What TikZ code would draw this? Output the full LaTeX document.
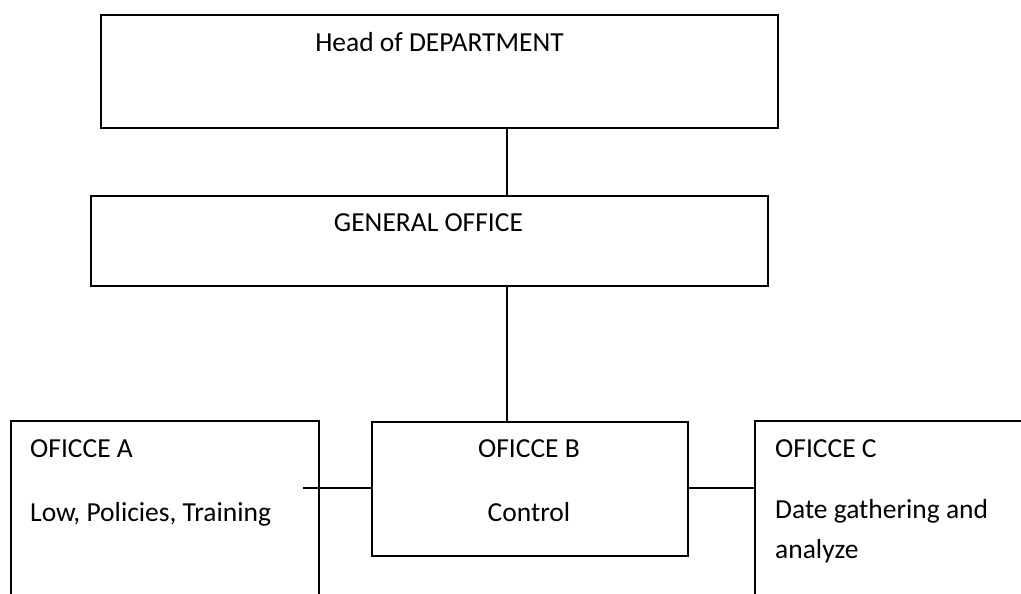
\documentclass[tikz,border=0pt]{standalone}
\usepackage{fontspec}
\setmainfont{Carlito}
\begin{document}
\begin{tikzpicture}[x=1pt,y=-1pt,
  box/.style={draw, line width=1.6pt, rectangle, inner sep=0pt, anchor=north west},
  link/.style={line width=1.6pt},
  txt/.style={font=\fontsize{27.5}{40}\selectfont, inner sep=0pt, anchor=base},
  txtl/.style={txt, anchor=base west}]
\useasboundingbox (0,0) rectangle (1021,594);
\clip (0,0) rectangle (1021,594);
\fill[white] (0,0) rectangle (1021,594);
% boxes
\node[box, minimum width=677pt, minimum height=113pt] (head) at (100,14) {};
\node[box, minimum width=677pt, minimum height=90pt] (gen) at (90,195) {};
\node[box, minimum width=308pt, minimum height=260pt] (offA) at (10,420) {};
\node[box, minimum width=316pt, minimum height=134pt] (offB) at (371,421) {};
\node[box, minimum width=320pt, minimum height=260pt] (offC) at (754,420) {};
% texts
\node[txt] (tHead) at (439.5,52) {Head of DEPARTMENT};
\node[txt] (tGen) at (428.5,231) {GENERAL OFFICE};
\node[txtl] (tA1) at (30,457) {OFICCE A};
\node[txtl] (tA2) at (30,521) {Low, Policies, Training};
\node[txt] (tB1) at (529,457) {OFICCE B};
\node[txt] (tB2) at (529,521) {Control};
\node[txtl] (tC1) at (775,457) {OFICCE C};
\node[txtl] (tC2) at (775,518) {Date gathering and};
\node[txtl] (tC3) at (775,558) {analyze};
% connectors
\coordinate (vx) at (507,0);
\coordinate (aend) at (303,488);
\draw[link] (head.south -| vx) -- (gen.north -| vx);
\draw[link] (gen.south -| vx) -- (offB.north -| vx);
\draw[link] (aend) -- (aend -| offB.west);
\draw[link] (aend -| offB.east) -- (aend -| offC.west);
\end{tikzpicture}
\end{document}
